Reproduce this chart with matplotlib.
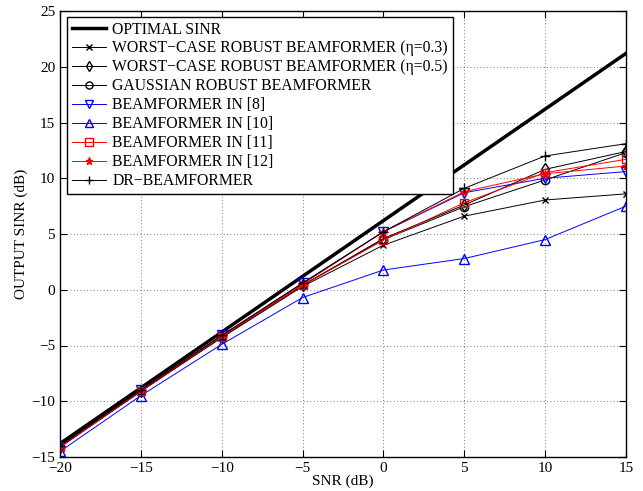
import matplotlib
matplotlib.use("Agg")
import matplotlib.pyplot as plt

plt.rcParams['font.family'] = ['Liberation Serif', 'DejaVu Serif']

# data
snr = [-20, -15, -10, -5, 0, 5, 10, 15]
optimal = [-13.8, -8.8, -3.8, 1.2, 6.2, 11.2, 16.2, 21.2]
wc03 = [-14.1, -9.1, -4.3, 0.3, 4.0, 6.6, 8.05, 8.6]
wc05 = [-14.1, -9.1, -4.2, 0.4, 4.6, 7.6, 10.8, 12.4]
gauss = [-14.1, -9.1, -4.2, 0.4, 4.5, 7.45, 9.85, 12.3]
bf8 = [-14.1, -9.0, -4.1, 0.6, 5.2, 8.7, 10.0, 10.6]
bf10 = [-14.5, -9.5, -4.9, -0.7, 1.77, 2.8, 4.5, 7.5]
bf11 = [-14.1, -9.1, -4.2, 0.4, 4.45, 7.8, 10.5, 11.7]
bf12 = [-14.1, -9.0, -4.1, 0.5, 5.2, 8.8, 10.4, 11.1]
drbf = [-14.0, -9.0, -4.1, 0.6, 5.2, 9.1, 12.0, 13.1]

labels = ['OPTIMAL SINR',
          'WORST\u2212CASE ROBUST BEAMFORMER (\u03b7=0.3)',
          'WORST\u2212CASE ROBUST BEAMFORMER (\u03b7=0.5)',
          'GAUSSIAN ROBUST BEAMFORMER',
          'BEAMFORMER IN [8]',
          'BEAMFORMER IN [10]',
          'BEAMFORMER IN [11]',
          'BEAMFORMER IN [12]',
          'DR\u2212BEAMFORMER']

fig = plt.figure(figsize=(6.43, 4.91), dpi=100)
ax = fig.add_axes([60 / 643, 1 - 457 / 491, 566 / 643, 446 / 491])

ms = 6
lw = 0.7
ax.plot(snr, optimal, color='k', lw=2.5, label=labels[0])
ax.plot(snr, wc03, color='k', lw=lw, marker='x', ms=5, label=labels[1])
ax.plot(snr, wc05, color='k', lw=lw, marker='d', ms=ms, mfc='none', label=labels[2])
ax.plot(snr, gauss, color='k', lw=lw, marker='o', ms=ms, mfc='none', label=labels[3])
ax.plot(snr, bf8, color='b', lw=lw, marker='v', ms=ms + 1, mfc='none', label=labels[4])
ax.plot(snr, bf10, color='b', lw=lw, marker='^', ms=ms + 1, mfc='none', label=labels[5])
ax.plot(snr, bf11, color='r', lw=lw, marker='s', ms=ms, mfc='none', label=labels[6])
ax.plot(snr, bf12, color='r', lw=lw, marker='*', ms=ms, label=labels[7])
ax.plot(snr, drbf, color='k', lw=lw, marker='+', ms=ms + 1, label=labels[8])

ax.set_xlim(-20, 15)
ax.set_ylim(-15, 25)
ax.set_xticks(range(-20, 16, 5))
ax.set_yticks(range(-15, 26, 5))
ax.grid(True, linestyle=(0, (1, 3)), color='k', lw=0.6, alpha=0.7)
ax.tick_params(direction='in', top=True, right=True, labelsize=11, length=5)
for s in ax.spines.values():
    s.set_linewidth(1.0)

ax.set_xlabel('SNR (dB)', fontsize=11, labelpad=0)
ax.set_ylabel('OUTPUT SINR (dB)', fontsize=11, labelpad=2)

leg = ax.legend(loc='upper left', bbox_to_anchor=(0.012, 0.987), borderaxespad=0,
                fontsize=11.3, handlelength=2.2, labelspacing=0.19, handletextpad=0.4,
                fancybox=False, edgecolor='k', framealpha=1, borderpad=0.3,
                markerscale=0.85)
leg.get_frame().set_linewidth(1.0)

fig.savefig('out.png', dpi=100)
